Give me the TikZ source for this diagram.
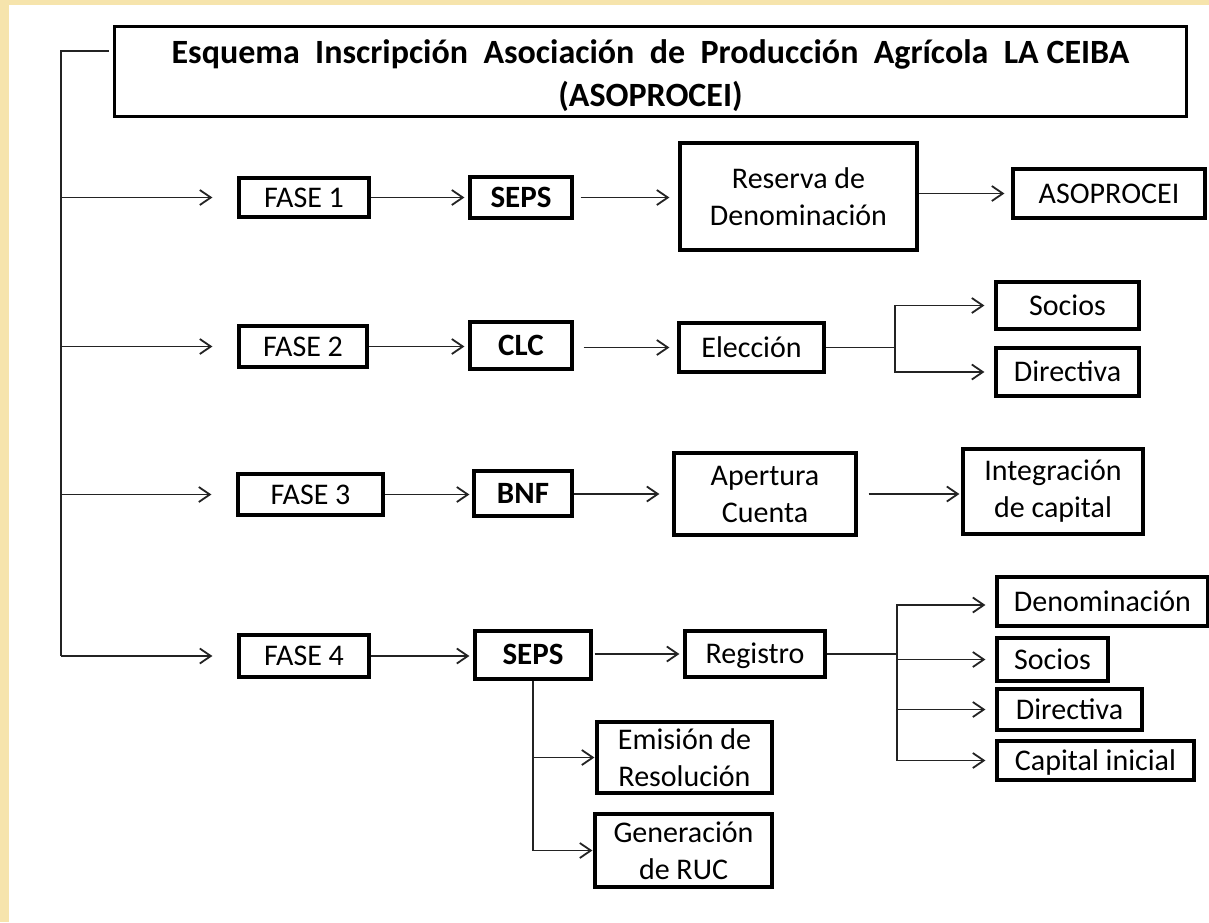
\documentclass[tikz,border=0pt]{standalone}
\usepackage{fontspec}
\setmainfont{Carlito}
\usetikzlibrary{arrows.meta}
\definecolor{parch}{RGB}{246,228,172}
\definecolor{ink}{RGB}{35,35,35}
\begin{document}
\begin{tikzpicture}[x=1pt,y=-1pt,
  box/.style={draw=black, line width=3.2pt, inner sep=0pt, align=center,
              font=\fontsize{30}{37}\selectfont},
  one/.style={text height=20pt, text depth=1pt},
  bbox/.style={box, one, font=\fontsize{31}{37}\bfseries\selectfont},
  conn/.style={draw=ink, line width=1.8pt},
  arr/.style={conn, -{Straight Barb[length=11pt,width=15pt,line width=1.8pt]}}]
% background
\fill[white] (0,0) rectangle (1209,922);
\fill[parch] (0,0) rectangle (9,922);
\fill[parch] (0,0) rectangle (1209,5);
\useasboundingbox (0,0) rectangle (1209,922);

% title
\node[box, minimum width=1072, minimum height=90, font=\fontsize{34}{43}\bfseries\selectfont]
  (title) at (650.5,71.5) {\rule{0pt}{33pt}Esquema\ \ Inscripción\ \ Asociación\ \ de\ \ Producción\ \ Agrícola\ \ LA CEIBA\\(ASOPROCEI)};

% row 1
\node[box, one, minimum width=130, minimum height=39] (f1) at (304,197.5) {FASE 1};
\node[bbox, minimum width=102, minimum height=41] (s1) at (521,197.5) {SEPS};
\node[box, minimum width=237, minimum height=107] (res) at (798.5,196.5) {Reserva de\\Denominación};
\node[box, one, minimum width=192, minimum height=49] (aso) at (1109,193.5) {ASOPROCEI};

% row 2
\node[box, one, minimum width=128, minimum height=41] (f2) at (303,346.5) {FASE 2};
\node[bbox, minimum width=102, minimum height=47] (clc) at (521,345.5) {CLC};
\node[box, one, minimum width=145, minimum height=49] (ele) at (751.5,347.5) {Elección};
\node[box, one, minimum width=143, minimum height=47] (soc2) at (1067.5,305.5) {Socios};
\node[box, one, minimum width=143, minimum height=48] (dir2) at (1067.5,372) {Directiva};

% row 3
\node[box, one, minimum width=145, minimum height=41] (f3) at (310.5,494.5) {FASE 3};
\node[bbox, minimum width=98, minimum height=45] (bnf) at (523,493.5) {BNF};
\node[box, minimum width=182, minimum height=82] (ape) at (765,494) {Apertura\\Cuenta};
\node[box, minimum width=180, minimum height=85] (int) at (1053,491.5) {Integración\\de capital};

% row 4
\node[box, one, minimum width=130, minimum height=42] (f4) at (304,656) {FASE 4};
\node[bbox, minimum width=116, minimum height=48] (s4) at (533,655) {SEPS};
\node[box, one, minimum width=140, minimum height=46] (reg) at (755,654) {Registro};
\node[box, one, minimum width=211, minimum height=49] (den) at (1102.5,601.5) {Denominación};
\node[box, one, minimum width=111, minimum height=43] (soc4) at (1052.5,659.5) {Socios};
\node[box, one, minimum width=145, minimum height=41] (dir4) at (1069.5,709.5) {Directiva};
\node[box, one, minimum width=197, minimum height=39] (cap) at (1095.5,760.5) {Capital inicial};
\node[box, minimum width=175, minimum height=71] (emi) at (684.5,757.5) {Emisión de\\Resolución};
\node[box, minimum width=177, minimum height=73] (gen) at (683.5,850.5) {Generación\\de RUC};

% trunk
\coordinate (top) at (61,51);
\coordinate (bot) at (61,656);
\draw[conn] ([xshift=-4pt]title.west |- top) -- (top) -- (bot);
\draw[arr, shorten >=25pt] (top |- f1) -- (f1.west);
\draw[arr, shorten >=25pt] (top |- f2) -- (f2.west);
\draw[arr, shorten >=25pt] (top |- f3) -- (f3.west);
\draw[arr, shorten >=25pt] (bot) -- (f4.west);

% row 1 connectors
\draw[arr, shorten >=4pt] (f1) -- (s1);
\draw[arr, shorten <=7pt, shorten >=9pt] (s1.east) -- (s1.east -| res.west);
\draw[arr, shorten >=7pt] (res.east |- aso) -- (aso.west);

% row 2 connectors
\draw[arr, shorten >=4pt] (f2.east) -- (f2.east -| clc.west);
\draw[arr, shorten <=10pt, shorten >=8pt] (clc.east |- ele) -- (ele.west);
\coordinate (b2) at (895,347.5);
\draw[conn] (ele.east) -- (b2);
\draw[arr, shorten >=10pt] (b2) |- (soc2.west);
\draw[arr, shorten >=10pt] (b2) |- (dir2.west);

% row 3 connectors
\draw[arr, shorten >=3pt] (f3.east) -- (f3.east -| bnf.west);
\draw[arr, shorten >=13pt] (bnf.east |- ape) -- (ape.west);
\draw[arr, shorten <=11pt, shorten >=2pt] (ape.east) -- (ape.east -| int.west);

% row 4 connectors
\draw[arr, shorten >=4pt] (f4.east) -- (f4.east -| s4.west);
\draw[arr, shorten <=2pt, shorten >=4pt] (s4.east |- reg) -- (reg.west);
\coordinate (b4) at (897,654);
\draw[conn] (reg.east) -- (b4);
\draw[arr, shorten >=10pt] (b4) |- ([yshift=-3.5pt]den.west);
\draw[arr, shorten >=10pt] (b4) |- (soc4.west);
\draw[arr, shorten >=10pt] (b4) |- (dir4.west);
\draw[arr, shorten >=10pt] (b4) |- (cap.west);
\draw[arr, shorten >=1pt] (s4.south) |- (emi.west);
\draw[arr, shorten >=1pt] (s4.south) |- (gen.west);
\end{tikzpicture}
\end{document}
